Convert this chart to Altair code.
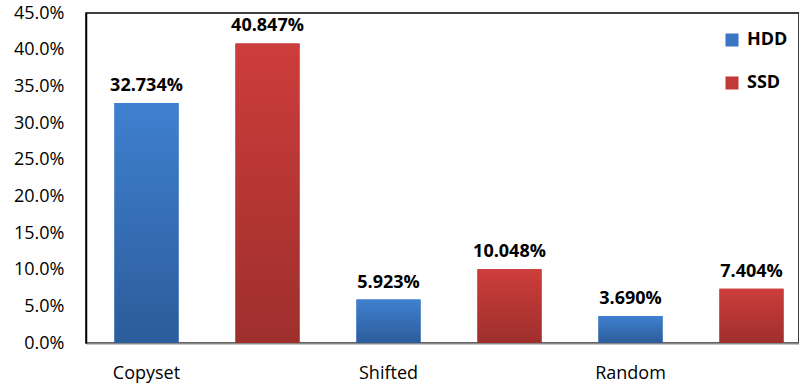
import altair as alt
import pandas as pd

groups = ["Copyset", "Copyset", "Shifted", "Shifted", "Random", "Random"]
series = ["HDD", "SSD", "HDD", "SSD", "HDD", "SSD"]
values = [0.32734, 0.40847, 0.05923, 0.10048, 0.03690, 0.07404]
y_ticks = [0, 0.05, 0.10, 0.15, 0.20, 0.25, 0.30, 0.35, 0.40, 0.45]

df = pd.DataFrame({"group": groups, "series": series, "value": values})
df["key"] = df["group"] + "|" + df["series"]
keys = list(df["key"])

FONT = "Open Sans"

blue_grad = {"gradient": "linear", "x1": 0, "y1": 0, "x2": 0, "y2": 1,
             "stops": [{"offset": 0, "color": "#3F80D0"}, {"offset": 1, "color": "#2C5C9A"}]}
red_grad = {"gradient": "linear", "x1": 0, "y1": 0, "x2": 0, "y2": 1,
            "stops": [{"offset": 0, "color": "#CD3D3B"}, {"offset": 1, "color": "#9E2F2D"}]}

x_enc = alt.X(
    "key:N",
    scale=alt.Scale(domain=keys, range=[0, 726], paddingInner=0.47, paddingOuter=0.235),
    sort=keys,
    axis=alt.Axis(
        title=None,
        labelExpr="split(datum.value, '|')[1] == 'HDD' ? split(datum.value, '|')[0] : ''",
        labelAngle=0,
        labelFont=FONT,
        labelFontSize=18,
        labelColor="#000000",
        labelPadding=21,
        ticks=False,
        domainColor="#888888",
        domainWidth=2,
    ),
)
y_enc = alt.Y(
    "value:Q",
    scale=alt.Scale(domain=[0, 0.45], nice=False),
    axis=alt.Axis(
        title=None,
        values=y_ticks,
        format=".1%",
        labelFont=FONT,
        labelFontSize=18,
        labelColor="#000000",
        labelPadding=22,
        ticks=False,
        grid=False,
        domainColor="#000000",
        domainWidth=1.5,
    ),
)

base = alt.Chart(df)

legend_bars = base.mark_bar().encode(
    x=x_enc,
    y=y_enc,
    color=alt.Color(
        "series:N",
        scale=alt.Scale(domain=["HDD", "SSD"], range=["#3A76C4", "#C23A38"]),
        legend=alt.Legend(
            title=None,
            orient="none",
            legendX=637,
            legendY=18,
            symbolType="square",
            symbolSize=169,
            symbolStrokeWidth=0,
            labelFont=FONT,
            labelFontSize=18,
            labelFontWeight="bold",
            labelColor="#000000",
            labelOffset=6,
            rowPadding=25,
            padding=0,
        ),
    ),
)

hdd = base.mark_bar(fill=blue_grad).encode(x=x_enc, y=y_enc).transform_filter("datum.series == 'HDD'")
ssd = base.mark_bar(fill=red_grad).encode(x=x_enc, y=y_enc).transform_filter("datum.series == 'SSD'")

labels = base.mark_text(
    font=FONT, fontSize=18, fontWeight="bold", color="#000000", baseline="bottom", dy=-8
).encode(x=x_enc, y=y_enc, text=alt.Text("value:Q", format=".3%"))

chart = (
    alt.layer(legend_bars, hdd, ssd, labels)
    .properties(
        width=713,
        height=330,
        autosize=alt.AutoSizeParams(type="none"),
        padding={"left": 86, "top": 13, "right": 0, "bottom": 44},
        background="white",
    )
    .configure_view(stroke="#000000", strokeWidth=1.5)
)

chart.save("out.html", embed_options={"renderer": "svg", "actions": False})
